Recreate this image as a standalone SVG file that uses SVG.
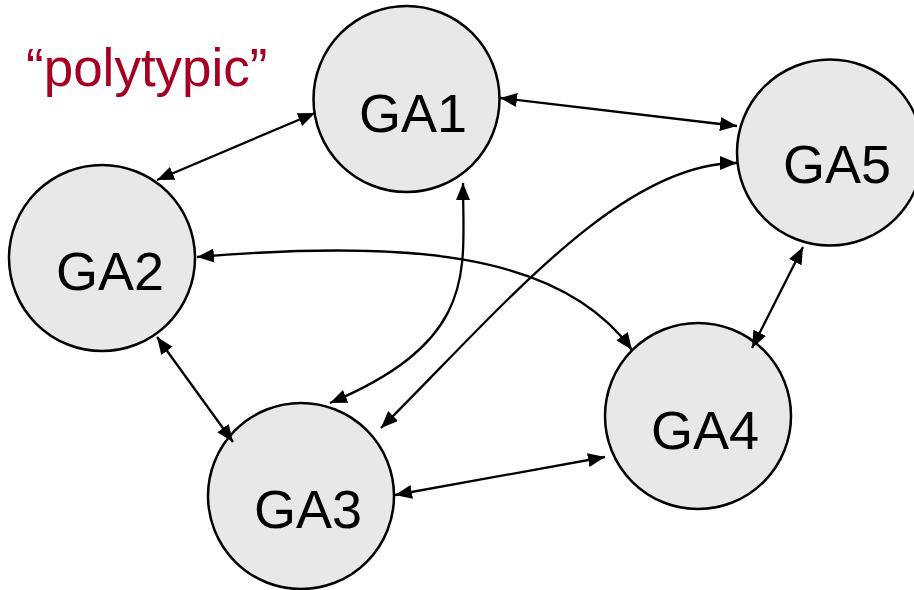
<svg xmlns="http://www.w3.org/2000/svg" width="914" height="590" viewBox="0 0 914 590">
  <style>
    .node circle { fill: #E8E8E8; stroke: #000; stroke-width: 2.5; }
    .node text { font-family: "Liberation Sans", Arial, sans-serif; font-size: 54px; fill: #000; text-anchor: middle; }
    .edge { fill: none; stroke: #000; stroke-width: 2.3; marker-start: url(#arr); marker-end: url(#arr); }
    .title { font-family: "Liberation Sans", Arial, sans-serif; font-size: 53px; fill: #A50021; }
  </style>
  <defs>
    <marker id="arr" markerUnits="userSpaceOnUse" markerWidth="18" markerHeight="14" refX="17" refY="7" orient="auto-start-reverse">
      <path d="M0,0 L17,7 L0,14 z" fill="#000"/>
    </marker>
  </defs>
  <rect width="914" height="590" fill="#fff"/>
  <text class="title" x="26" y="86">“polytypic”</text>
  <g id="nodes">
    <g id="GA1" class="node"><circle cx="406.5" cy="99" r="93"/><text x="413" y="132">GA1</text></g>
    <g id="GA2" class="node"><circle cx="102" cy="258" r="93"/><text x="110" y="290">GA2</text></g>
    <g id="GA3" class="node"><circle cx="301" cy="496" r="93"/><text x="308" y="528">GA3</text></g>
    <g id="GA4" class="node"><circle cx="698" cy="416" r="93"/><text x="705" y="449">GA4</text></g>
    <g id="GA5" class="node"><circle cx="830" cy="152.5" r="93"/><text x="837" y="183">GA5</text></g>
  </g>
  <g id="connectors">
    <path class="edge" d="M157,180 L315,113"/>
    <path class="edge" d="M500,98 L737,126"/>
    <path class="edge" d="M381,428 C500,310 620,163 737,163"/>
    <path class="edge" d="M463,183 C463,270 480,340 330,403"/>
    <path class="edge" d="M197,257 C400,240 560,250 632,350"/>
    <path class="edge" d="M803,247 L752,348"/>
    <path class="edge" d="M157,337 L233,442"/>
    <path class="edge" d="M395,495 L605,457"/>
  </g>
</svg>
